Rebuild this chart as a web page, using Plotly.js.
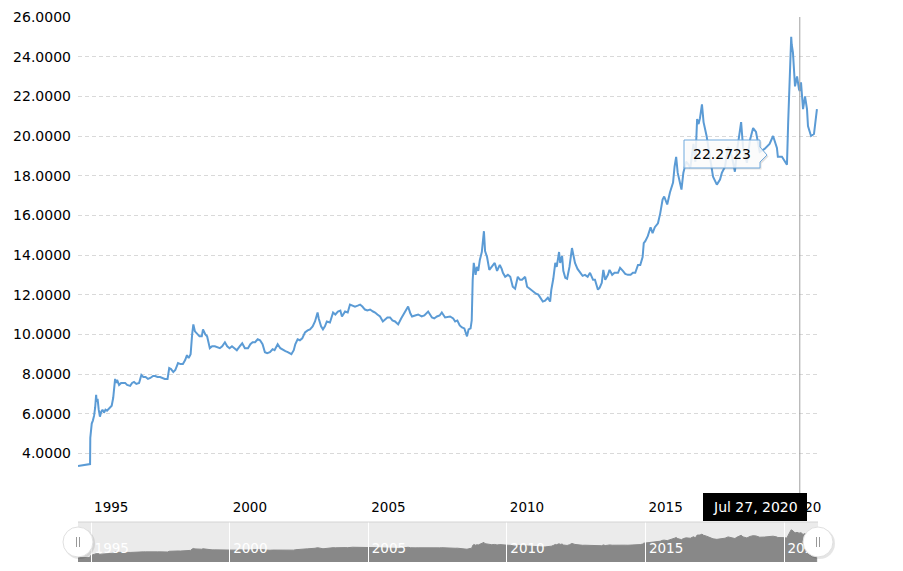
<!DOCTYPE html>
<html>
<head>
<meta charset="utf-8">
<script src="https://cdn.plot.ly/plotly-3.0.1.min.js"></script>
<style>
html,body{margin:0;padding:0;background:#fff;}
#chart{width:903px;height:571px;}
</style>
</head>
<body>
<div id="chart"></div>
<script>
// ---- Data (MXN per USD) ----
const dates = [
"1994-07-13","1994-08-20","1994-09-25","1994-10-30","1994-12-05","1994-12-19","1994-12-22","1994-12-31",
"1995-01-10","1995-01-25","1995-02-10","1995-02-24","1995-03-09","1995-03-16","1995-03-28","1995-04-12","1995-04-28",
"1995-05-15","1995-06-01","1995-06-20","1995-07-10","1995-07-30","1995-08-20","1995-09-10","1995-09-30","1995-10-20",
"1995-11-05","1995-11-14","1995-11-30","1995-12-10",
"1996-01-05","1996-02-01","1996-03-01","1996-03-25","1996-04-20","1996-05-30","1996-06-25","1996-07-20","1996-08-20",
"1996-09-25","1996-10-25","1996-11-20","1996-12-20",
"1997-01-20","1997-02-20","1997-03-28","1997-04-25","1997-05-25","1997-06-28","1997-07-25","1997-08-30","1997-10-05",
"1997-10-27","1997-11-20","1997-12-20",
"1998-01-15","1998-02-20","1998-03-25","1998-04-25","1998-05-25","1998-06-18","1998-07-10","1998-08-05","1998-08-25",
"1998-09-10","1998-10-01","1998-10-30","1998-11-30","1998-12-30",
"1999-01-15","1999-02-15","1999-03-10","1999-04-15","1999-05-15","1999-06-20","1999-07-20","1999-08-25","1999-09-25",
"1999-10-31","1999-11-30","1999-12-31",
"2000-02-01","2000-03-05","2000-04-05","2000-05-15","2000-06-15","2000-07-20","2000-08-30","2000-09-30","2000-10-30","2000-12-01",
"2001-01-05","2001-02-05","2001-03-10","2001-04-10","2001-05-10","2001-06-15","2001-07-20","2001-08-15","2001-09-25","2001-10-30","2001-12-05",
"2002-01-05","2002-02-05","2002-03-25","2002-04-25","2002-05-15","2002-06-15","2002-07-15","2002-08-15","2002-09-20","2002-10-25","2002-11-25","2002-12-30",
"2003-01-30","2003-03-05","2003-03-20","2003-04-20","2003-05-15","2003-06-10","2003-07-05","2003-08-15","2003-09-25","2003-10-25","2003-11-28","2003-12-30",
"2004-01-20","2004-03-01","2004-04-05","2004-05-05","2004-06-10","2004-07-10","2004-08-15","2004-09-15","2004-10-15","2004-11-18","2004-12-20",
"2005-01-25","2005-03-05","2005-04-01","2005-05-01","2005-06-05","2005-07-12","2005-08-10","2005-09-10","2005-10-15","2005-11-15","2005-12-20",
"2006-01-30","2006-03-10","2006-04-30","2006-06-10","2006-07-10","2006-08-01","2006-09-10","2006-10-20","2006-12-05",
"2007-01-10","2007-03-01","2007-04-20","2007-05-20","2007-06-25","2007-07-30","2007-08-28","2007-10-10","2007-11-20","2007-12-15",
"2008-01-25","2008-02-20","2008-03-20","2008-04-20","2008-05-20","2008-06-20","2008-07-25","2008-08-15","2008-09-10","2008-09-25",
"2008-10-08","2008-10-22","2008-11-15","2008-12-01","2008-12-20",
"2009-01-10","2009-02-05","2009-02-20","2009-03-05","2009-03-20","2009-04-15","2009-05-15","2009-06-15","2009-07-25","2009-08-25",
"2009-09-30","2009-10-25","2009-11-10","2009-12-10",
"2010-01-15","2010-02-15","2010-03-20","2010-04-20","2010-05-25","2010-06-25","2010-07-20","2010-08-30","2010-09-25","2010-10-30","2010-12-10",
"2011-01-20","2011-02-20","2011-03-20","2011-04-20","2011-05-20","2011-06-25","2011-07-25","2011-08-10","2011-09-05","2011-10-01",
"2011-10-20","2011-11-20","2011-12-05","2011-12-30",
"2012-01-15","2012-02-10","2012-03-05","2012-04-05","2012-05-08","2012-06-17","2012-07-20","2012-08-22","2012-09-25","2012-10-27","2012-12-01",
"2013-01-01","2013-02-10","2013-03-07","2013-04-15","2013-05-08","2013-06-05","2013-06-25","2013-07-20","2013-08-25","2013-09-15","2013-10-20","2013-11-20",
"2014-01-05","2014-02-01","2014-03-10","2014-04-10","2014-05-15","2014-06-20","2014-07-20","2014-08-20","2014-09-25","2014-10-25","2014-11-25","2014-12-10","2014-12-30",
"2015-02-01","2015-03-10","2015-04-05","2015-05-05","2015-06-15","2015-07-15","2015-08-15","2015-09-05","2015-10-15","2015-11-20","2015-12-31",
"2016-01-20","2016-02-10","2016-03-01","2016-04-20","2016-05-15","2016-06-20","2016-07-15","2016-08-15","2016-09-25","2016-10-20","2016-11-12",
"2016-12-01","2016-12-20",
"2017-01-15","2017-02-05","2017-03-17","2017-04-30","2017-06-10","2017-07-30","2017-09-10","2017-10-05","2017-11-15","2017-12-25",
"2018-02-15","2018-03-25","2018-04-20","2018-06-15","2018-07-10","2018-08-30","2018-10-10","2018-11-20","2018-12-28",
"2019-02-15","2019-04-20","2019-06-25","2019-08-10","2019-09-30","2019-10-12","2019-12-05",
"2020-02-09","2020-02-25","2020-03-10","2020-03-19","2020-04-05","2020-04-12","2020-04-28","2020-05-25","2020-06-21","2020-07-17",
"2020-07-27","2020-08-12","2020-09-08","2020-10-04","2020-10-30","2020-11-12","2020-12-22",
"2021-01-30","2021-02-25","2021-03-10"
];
const rates = [
3.36,3.38,3.40,3.42,3.44,3.46,4.78,5.10,
5.50,5.65,5.90,6.30,6.95,6.60,6.75,6.20,5.85,
6.10,6.20,6.05,6.20,6.15,6.25,6.30,6.40,6.80,
7.40,7.75,7.55,7.70,
7.45,7.55,7.55,7.55,7.45,7.40,7.55,7.60,7.50,
7.55,7.95,7.85,7.85,
7.75,7.80,7.90,7.90,7.85,7.85,7.80,7.75,7.75,
8.30,8.25,8.10,
8.20,8.55,8.50,8.50,8.70,8.95,8.80,9.00,10.00,
10.50,10.15,10.00,9.90,9.90,
10.25,10.00,9.90,9.30,9.40,9.40,9.35,9.30,9.40,
9.60,9.40,9.30,
9.40,9.30,9.20,9.40,9.55,9.30,9.30,9.50,9.60,9.60,
9.75,9.70,9.50,9.10,9.05,9.10,9.25,9.20,9.50,9.30,9.20,
9.15,9.10,9.00,9.20,9.50,9.75,9.70,9.80,10.10,10.20,10.25,10.40,
10.65,11.10,10.80,10.40,10.25,10.40,10.65,10.60,11.10,11.00,11.15,11.20,
10.90,11.15,11.10,11.50,11.45,11.40,11.45,11.50,11.40,11.25,11.20,
11.25,11.15,11.10,11.00,10.90,10.65,10.75,10.85,10.85,10.70,10.65,
10.50,10.80,11.15,11.40,11.05,10.90,10.95,11.00,10.90,
10.95,11.15,10.85,10.80,10.90,10.95,11.10,10.85,10.90,10.90,
10.80,10.65,10.70,10.45,10.35,10.30,9.90,10.25,10.30,10.70,
12.75,13.60,13.00,13.40,13.20,
13.75,14.15,14.70,15.20,14.20,13.90,13.25,13.40,13.60,13.20,
13.50,13.30,13.10,12.90,
13.00,12.90,12.40,12.30,12.90,12.75,12.75,12.90,12.40,12.30,12.15,
12.05,12.00,11.85,11.65,11.70,11.85,11.65,12.25,12.80,13.60,
13.40,14.15,13.60,13.95,
13.20,12.85,12.80,13.40,14.35,13.60,13.30,13.15,12.95,13.00,12.90,
13.10,12.75,12.75,12.25,12.35,12.60,13.25,12.75,13.00,13.25,13.00,13.10,
13.10,13.35,13.20,13.05,13.00,13.00,13.10,13.10,13.50,13.50,13.90,14.60,14.70,
14.95,15.40,15.10,15.40,15.60,16.10,16.80,16.95,16.55,17.15,17.65,
18.45,18.95,18.15,17.30,18.15,18.70,18.60,18.40,19.60,18.70,20.85,
20.60,20.90,
21.60,20.70,20.00,18.95,17.95,17.55,17.80,18.15,18.45,19.45,
18.95,18.20,19.20,20.70,19.45,18.65,19.80,20.40,20.20,
19.20,19.35,19.60,20.00,19.40,18.95,18.95,
18.55,20.70,22.35,23.35,25.00,24.60,24.20,22.50,23.00,22.35,
22.27,22.70,21.35,22.00,21.35,20.50,20.00,
20.10,20.85,21.35
];
const yTickVals = [2,4,6,8,10,12,14,16,18,20,22,24,26];
const yTickText = ["","4.0000","6.0000","8.0000","10.0000","12.0000","14.0000","16.0000","18.0000","20.0000","22.0000","24.0000","26.0000"];
const xRange = ["1994-07-13","2021-03-24"];
const hoverDate = "2020-07-27";
const hoverDateText = "Jul 27, 2020";
const hoverValueText = "22.2723";

// ---- Layout helpers (pixel -> paper) ----
const W = 903, H = 571, ML = 78, MR = 85, MT = 17, MB = 9;
const PW = W - ML - MR, PH = H - MT - MB;
const px = x => (x - ML) / PW;
const py = y => (H - MB - y) / PH;

const FONT = "DejaVu Sans, Verdana, sans-serif";
const lineColor = "#5b9bd5";

const traces = [
  {x: dates, y: rates, type: "scatter", mode: "lines", xaxis: "x", yaxis: "y",
   line: {color: lineColor, width: 2}, hoverinfo: "skip"},
  {x: dates, y: rates, type: "scatter", mode: "lines", xaxis: "x2", yaxis: "y2",
   fill: "tozeroy", fillcolor: "#888888", line: {color: "#888888", width: 1}, hoverinfo: "skip"}
];

const handleY = py(542);
function handle(anchorX) {
  return [
    {type: "circle", xref: "paper", yref: "paper", xsizemode: "pixel", ysizemode: "pixel",
     xanchor: anchorX, yanchor: handleY, x0: -14, x1: 17, y0: -17, y1: 14,
     fillcolor: "rgba(0,0,0,0.10)", line: {width: 0}},
    {type: "circle", xref: "paper", yref: "paper", xsizemode: "pixel", ysizemode: "pixel",
     xanchor: anchorX, yanchor: handleY, x0: -15, x1: 15, y0: -15, y1: 15,
     fillcolor: "#ffffff", line: {color: "#e0e0e0", width: 1}},
    {type: "line", xref: "paper", yref: "paper", xsizemode: "pixel", ysizemode: "pixel",
     xanchor: anchorX, yanchor: handleY, x0: -1.5, x1: -1.5, y0: -5, y1: 5, line: {color: "#999", width: 1}},
    {type: "line", xref: "paper", yref: "paper", xsizemode: "pixel", ysizemode: "pixel",
     xanchor: anchorX, yanchor: handleY, x0: 1.5, x1: 1.5, y0: -5, y1: 5, line: {color: "#999", width: 1}}
  ];
}

function tipPath(dx, dy) {
  const p = [[684,140],[760,140],[760,147],[767,155],[760,162],[760,168],[684,168]];
  return "M" + p.map(q => px(q[0]+dx).toFixed(5) + "," + py(q[1]+dy).toFixed(5)).join(" L") + " Z";
}

const shapes = [
  // navigator background
  {type: "rect", xref: "x2 domain", yref: "y2 domain", x0: 0, x1: 1, y0: 0, y1: 1,
   fillcolor: "#ebebeb", line: {width: 0}, layer: "below"},
  {type: "line", xref: "paper", yref: "paper", x0: 0, x1: 1, y0: py(522), y1: py(522),
   line: {color: "#d4d4d4", width: 1}},
  // crosshair
  {type: "line", xref: "x", yref: "y domain", x0: hoverDate, x1: hoverDate, y0: 0, y1: 1,
   line: {color: "#a0a0a0", width: 1}},
  // date label box
  {type: "rect", xref: "paper", yref: "paper", x0: px(703), x1: px(807), y0: py(521), y1: py(493),
   fillcolor: "#000000", line: {width: 0}},
  // tooltip shadow and box
  {type: "path", xref: "paper", yref: "paper", path: tipPath(1.5, 1.5),
   fillcolor: "rgba(0,0,0,0.12)", line: {width: 0}},
  {type: "path", xref: "paper", yref: "paper", path: tipPath(0, 0),
   fillcolor: "rgba(255,255,255,0.85)", line: {color: "#6fa8dc", width: 1}}
].concat(handle(0), handle(1));

const annotations = [
  {xref: "paper", yref: "paper", x: px(755), y: py(507), text: hoverDateText, showarrow: false,
   font: {family: FONT, size: 14, color: "#ffffff"}, xanchor: "center", yanchor: "middle"},
  {xref: "paper", yref: "paper", x: px(722), y: py(154), text: hoverValueText, showarrow: false,
   font: {family: FONT, size: 14, color: "#000000"}, xanchor: "center", yanchor: "middle"}
];

const layout = {
  width: W, height: H,
  margin: {l: ML, r: MR, t: MT, b: MB, pad: 0},
  paper_bgcolor: "#ffffff", plot_bgcolor: "#ffffff",
  showlegend: false, hovermode: false,
  font: {family: FONT, size: 13, color: "#000"},
  xaxis: {
    type: "date", range: xRange, anchor: "y", domain: [0, 1],
    tick0: "1995-01-01", dtick: "M60", tickformat: "%Y",
    showgrid: false, zeroline: false, showline: false, ticks: "",
    ticklabelposition: "outside right", ticklabelshift: 3, ticklabelstandoff: 4,
    tickfont: {family: FONT, size: 13.5, color: "#000"}
  },
  yaxis: {
    domain: [py(493), 1], range: [2, 26], anchor: "x",
    tickmode: "array", tickvals: yTickVals, ticktext: yTickText,
    showgrid: true, gridcolor: "#d9d9d9", griddash: "4px,3px", gridwidth: 1,
    zeroline: false, showline: false, ticks: "", ticklabelstandoff: 6,
    tickfont: {family: FONT, size: 14, color: "#000"}
  },
  xaxis2: {
    type: "date", range: xRange, anchor: "y2", domain: [0, 1],
    tick0: "1995-01-01", dtick: "M60", tickformat: "%Y",
    showgrid: false, zeroline: false, showline: false,
    ticks: "inside", ticklen: 40, tickcolor: "#ffffff", tickwidth: 1,
    ticklabelposition: "inside right", ticklabeloverflow: "allow", ticklabelshift: 3,
    tickfont: {family: FONT, size: 13.5, color: "#ffffff"}
  },
  yaxis2: {
    domain: [0, py(522)], range: [0, 31], anchor: "x2",
    showgrid: false, zeroline: false, showline: false, showticklabels: false, ticks: ""
  },
  shapes: shapes,
  annotations: annotations
};

Plotly.newPlot("chart", traces, layout, {staticPlot: true, displayModeBar: false});
</script>
</body>
</html>
